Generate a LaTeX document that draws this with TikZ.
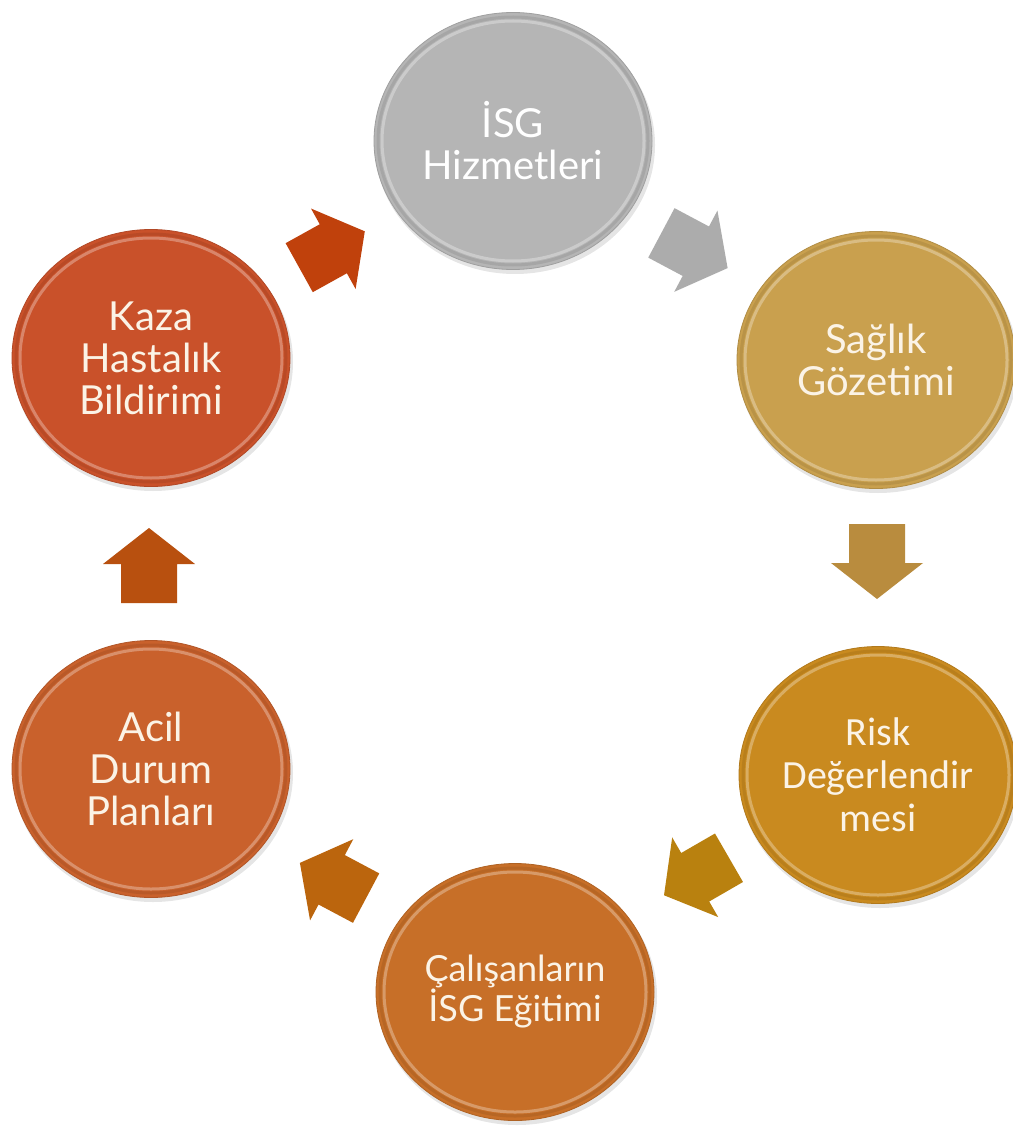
\documentclass[tikz,border=0pt]{standalone}
\usepackage{fontspec}
\usetikzlibrary{shapes.geometric,calc}
\newfontfamily\ralefont{Lato}
\newfontfamily\calfont{Carlito}
\definecolor{cIsg}{HTML}{B5B5B5}
\definecolor{cSag}{HTML}{C9A04E}
\definecolor{cRisk}{HTML}{C98A1F}
\definecolor{cCal}{HTML}{C76F28}
\definecolor{cAcil}{HTML}{C9612C}
\definecolor{cKaza}{HTML}{C9512A}
\definecolor{aOne}{HTML}{C0410C}
\definecolor{aTwo}{HTML}{ACACAC}
\definecolor{aThree}{HTML}{B98C3E}
\definecolor{aFour}{HTML}{B9810F}
\definecolor{aFive}{HTML}{BB650D}
\definecolor{aSix}{HTML}{B8500F}
\definecolor{txtcream}{HTML}{FBF3E6}
\tikzset{
  disc/.style={ellipse, minimum width=278pt, minimum height=257pt, inner sep=0pt,
    align=center, text=txtcream, line width=0.8pt,
    fill=#1, draw=#1!88!black,
    font=\ralefont\fontsize{40}{42}\selectfont},
  discshadow/.style={fill=black, opacity=0.10},
  rimlight/.style={draw=white, opacity=0.30, line width=3pt},
  rimdark/.style={draw=black, opacity=0.08, line width=3pt},
  pics/blockarrow/.style={code={
    \fill[#1] (-37.5,-28) -- (1.5,-28) -- (1.5,-46) -- (37.5,0) -- (1.5,46)
      -- (1.5,28) -- (-37.5,28) -- cycle;}}
}
\begin{document}
\begin{tikzpicture}[x=1pt,y=-1pt]
\useasboundingbox (0,0) rectangle (1012,1126);
\fill[white] (0,0) rectangle (1012,1126);
% centres
\coordinate (pIsg) at (513,141);
\coordinate (pSag) at (876,360);
\coordinate (pRisk) at (878,775);
\coordinate (pCal) at (515,992);
\coordinate (pAcil) at (151,769);
\coordinate (pKaza) at (151,358);
% shadows
\foreach \p in {pIsg,pSag,pRisk,pCal,pAcil,pKaza}{
  \fill[discshadow] ($(\p)+(2,4)$) ellipse [x radius=140pt, y radius=129pt];
}
% discs
\node[disc=cIsg, text=white] (isg) at (pIsg) {İSG\\Hizmetleri};
\node[disc=cSag] (sag) at (pSag) {Sağlık\\Gözetimi};
\node[disc=cRisk, font=\calfont\fontsize{40}{43}\selectfont] (risk) at (pRisk) {Risk\\Değerlendir\\mesi};
\node[disc=cCal, font=\ralefont\fontsize{36}{37}\selectfont] (cal) at (pCal) {Çalışanların\\İSG Eğitimi};
\node[disc=cAcil] (acil) at (pAcil) {Acil\\Durum\\Planları};
\node[disc=cKaza] (kaza) at (pKaza) {Kaza\\Hastalık\\Bildirimi};
% rim bevel
\foreach \n in {isg,sag,risk,cal,acil,kaza}{
  \draw[rimdark] (\n.center) ellipse [x radius=135pt, y radius=124pt];
  \draw[rimlight] (\n.center) ellipse [x radius=131pt, y radius=120pt];
}
% block arrows
\pic[rotate=29] at ($(kaza)!0.5!(isg)$) {blockarrow=aOne};
\pic[rotate=-28] at ($(isg)!0.5!(sag)$) {blockarrow=aTwo};
\pic[rotate=-90] at ($(sag)!0.5!(risk)+(0,-6)$) {blockarrow=aThree};
\pic[rotate=210] at ($(risk)!0.5!(cal)+(0,-7)$) {blockarrow=aFour};
\pic[rotate=152] at ($(cal)!0.5!(acil)$) {blockarrow=aFive};
\pic[rotate=90] at ($(acil)!0.5!(kaza)+(-2,2)$) {blockarrow=aSix};
\end{tikzpicture}
\end{document}
